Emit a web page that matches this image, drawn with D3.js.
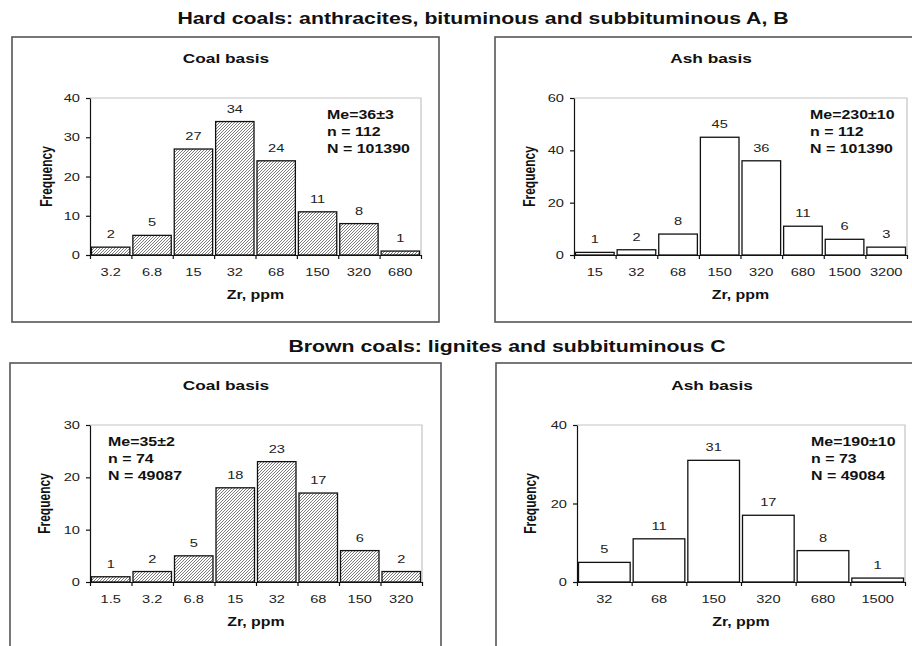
<!DOCTYPE html>
<html>
<head>
<meta charset="utf-8">
<script src="https://cdn.jsdelivr.net/npm/d3@7"></script>
<style>
  body { margin: 0; background: #fff; }
  svg { display: block; font-family: "Liberation Sans", Arial, sans-serif; }
</style>
</head>
<body>
<svg width="912" height="646"></svg>
<script>
// --- data ---
const hardCoalBins = ["3.2", "6.8", "15", "32", "68", "150", "320", "680"];
const hardCoalFreq = [2, 5, 27, 34, 24, 11, 8, 1];
const hardCoalStats = ["Me=36\u00b13", "n = 112", "N = 101390"];

const hardAshBins = ["15", "32", "68", "150", "320", "680", "1500", "3200"];
const hardAshFreq = [1, 2, 8, 45, 36, 11, 6, 3];
const hardAshStats = ["Me=230\u00b110", "n = 112", "N = 101390"];

const brownCoalBins = ["1.5", "3.2", "6.8", "15", "32", "68", "150", "320"];
const brownCoalFreq = [1, 2, 5, 18, 23, 17, 6, 2];
const brownCoalStats = ["Me=35\u00b12", "n = 74", "N = 49087"];

const brownAshBins = ["32", "68", "150", "320", "680", "1500"];
const brownAshFreq = [5, 11, 31, 17, 8, 1];
const brownAshStats = ["Me=190\u00b110", "n = 73", "N = 49084"];

const hardTitle = "Hard coals: anthracites, bituminous and subbituminous A, B";
const brownTitle = "Brown coals: lignites and subbituminous C";

// the source image is stretched sideways, so text gets the same stretch
const SX = 1.33;

let svg = d3.select("svg");

let defs = svg.append("defs");
defs.append("pattern")
  .attr("id", "hatch")
  .attr("patternUnits", "userSpaceOnUse")
  .attr("width", 3)
  .attr("height", 3)
  .append("path")
  .attr("d", "M-1,1 l2,-2 M0,3 l3,-3 M2,4 l2,-2")
  .attr("stroke", "#5a5a5a")
  .attr("stroke-width", 0.8);

function placeText(sel, x, y, rotate) {
  return sel.attr("transform", "translate(" + x + "," + y + ") scale(" + SX + ",1)" + (rotate ? " rotate(-90)" : ""));
}

function mainTitle(text, cx, y) {
  placeText(svg.append("text"), cx, y)
    .attr("text-anchor", "middle")
    .style("font-size", "16px")
    .style("font-weight", "bold")
    .attr("fill", "#111")
    .text(text);
}

function drawPanel(p) {
  let g = svg.append("g");
  let [x0, y0, x1, y1] = p.plot; // left, top, right, bottom

  g.append("rect")
    .attr("x", p.box[0]).attr("y", p.box[1])
    .attr("width", p.box[2] - p.box[0]).attr("height", p.box[3] - p.box[1])
    .attr("fill", "none")
    .attr("stroke", "#555")
    .attr("stroke-width", 1.6);

  let x = d3.scaleBand().domain(p.bins).range([x0, x1]);
  let y = d3.scaleLinear().domain([0, p.yMax]).range([y1, y0]);
  let edges = d3.scaleLinear().domain([0, p.bins.length]).range([x0, x1]);

  // light frame of the plot area (top and right)
  g.append("path")
    .attr("d", "M" + x0 + "," + y0 + "H" + x1 + "V" + y1)
    .attr("fill", "none")
    .attr("stroke", "#c4c4c4")
    .attr("stroke-width", 1.2);

  let rows = p.bins.map((b, i) => ({ bin: b, f: p.freq[i] }));

  g.selectAll(".bar")
    .data(rows)
    .enter().append("rect")
    .attr("class", "bar")
    .attr("x", d => x(d.bin) + 1.5)
    .attr("width", x.bandwidth() - 3)
    .attr("y", d => y(d.f))
    .attr("height", d => y(0) - y(d.f))
    .attr("fill", p.hatched ? "url(#hatch)" : "#fff")
    .attr("stroke", "#111")
    .attr("stroke-width", 1.3);

  g.selectAll(".val")
    .data(rows)
    .enter().append("text")
    .attr("class", "val")
    .each(function (d) {
      placeText(d3.select(this), x(d.bin) + x.bandwidth() / 2, y(d.f) - 9);
    })
    .attr("text-anchor", "middle")
    .style("font-size", "11px")
    .attr("fill", "#222")
    .text(d => d.f);

  // y axis
  let ya = g.append("g")
    .attr("transform", "translate(" + x0 + ",0)")
    .call(d3.axisLeft(y).tickValues(p.yTicks).tickSize(4).tickSizeOuter(0).tickPadding(6));
  ya.selectAll("text")
    .attr("x", -10 / SX)
    .attr("transform", "scale(" + SX + ",1)")
    .style("font-size", "11px")
    .attr("fill", "#222");

  // x axis: ticks at bin edges
  g.append("g")
    .attr("transform", "translate(0," + y1 + ")")
    .call(d3.axisBottom(edges).tickValues(d3.range(p.bins.length + 1)).tickSize(4).tickSizeOuter(0).tickFormat(""));

  // x labels at bin centres
  let xl = g.append("g")
    .attr("transform", "translate(0," + y1 + ")")
    .call(d3.axisBottom(x).tickSize(0).tickPadding(13));
  xl.select(".domain").remove();
  xl.selectAll("text")
    .attr("transform", "scale(" + SX + ",1)")
    .attr("x", 0)
    .style("font-size", "11px")
    .attr("fill", "#222");

  g.selectAll(".domain").attr("stroke", "#111").attr("stroke-width", 1.2);
  g.selectAll(".tick line").attr("stroke", "#111").attr("stroke-width", 1.2);

  placeText(g.append("text"), p.titleX, y0 - 35)
    .attr("text-anchor", "middle")
    .style("font-size", "13px")
    .style("font-weight", "bold")
    .attr("fill", "#111")
    .text(p.title);

  placeText(g.append("text"), (x0 + x1) / 2, y1 + 44)
    .attr("text-anchor", "middle")
    .style("font-size", "12px")
    .style("font-weight", "bold")
    .attr("fill", "#111")
    .text("Zr, ppm");

  placeText(g.append("text"), p.box[0] + 40, (y0 + y1) / 2, true)
    .attr("text-anchor", "middle")
    .style("font-size", "12px")
    .style("font-weight", "bold")
    .attr("fill", "#111")
    .text("Frequency");

  g.selectAll(".stat")
    .data(p.stats)
    .enter().append("text")
    .attr("class", "stat")
    .each(function (d, i) {
      placeText(d3.select(this), p.statX, y0 + 21 + i * 17);
    })
    .style("font-size", "12px")
    .style("font-weight", "bold")
    .attr("fill", "#111")
    .text(d => d);
}

mainTitle(hardTitle, 483, 24);
mainTitle(brownTitle, 507, 352);

drawPanel({
  box: [12, 37, 439, 322], plot: [90, 98, 421, 255],
  bins: hardCoalBins, freq: hardCoalFreq, stats: hardCoalStats,
  yMax: 40, yTicks: [0, 10, 20, 30, 40], hatched: true,
  title: "Coal basis", titleX: 226, statX: 327
});
drawPanel({
  box: [495, 37, 930, 322], plot: [574, 98, 907, 255],
  bins: hardAshBins, freq: hardAshFreq, stats: hardAshStats,
  yMax: 60, yTicks: [0, 20, 40, 60], hatched: false,
  title: "Ash basis", titleX: 711, statX: 810
});
drawPanel({
  box: [10, 363, 441, 660], plot: [90, 425, 422, 582],
  bins: brownCoalBins, freq: brownCoalFreq, stats: brownCoalStats,
  yMax: 30, yTicks: [0, 10, 20, 30], hatched: true,
  title: "Coal basis", titleX: 226, statX: 108
});
drawPanel({
  box: [496, 363, 930, 660], plot: [577, 425, 905, 582],
  bins: brownAshBins, freq: brownAshFreq, stats: brownAshStats,
  yMax: 40, yTicks: [0, 20, 40], hatched: false,
  title: "Ash basis", titleX: 712, statX: 811
});
</script>
</body>
</html>
